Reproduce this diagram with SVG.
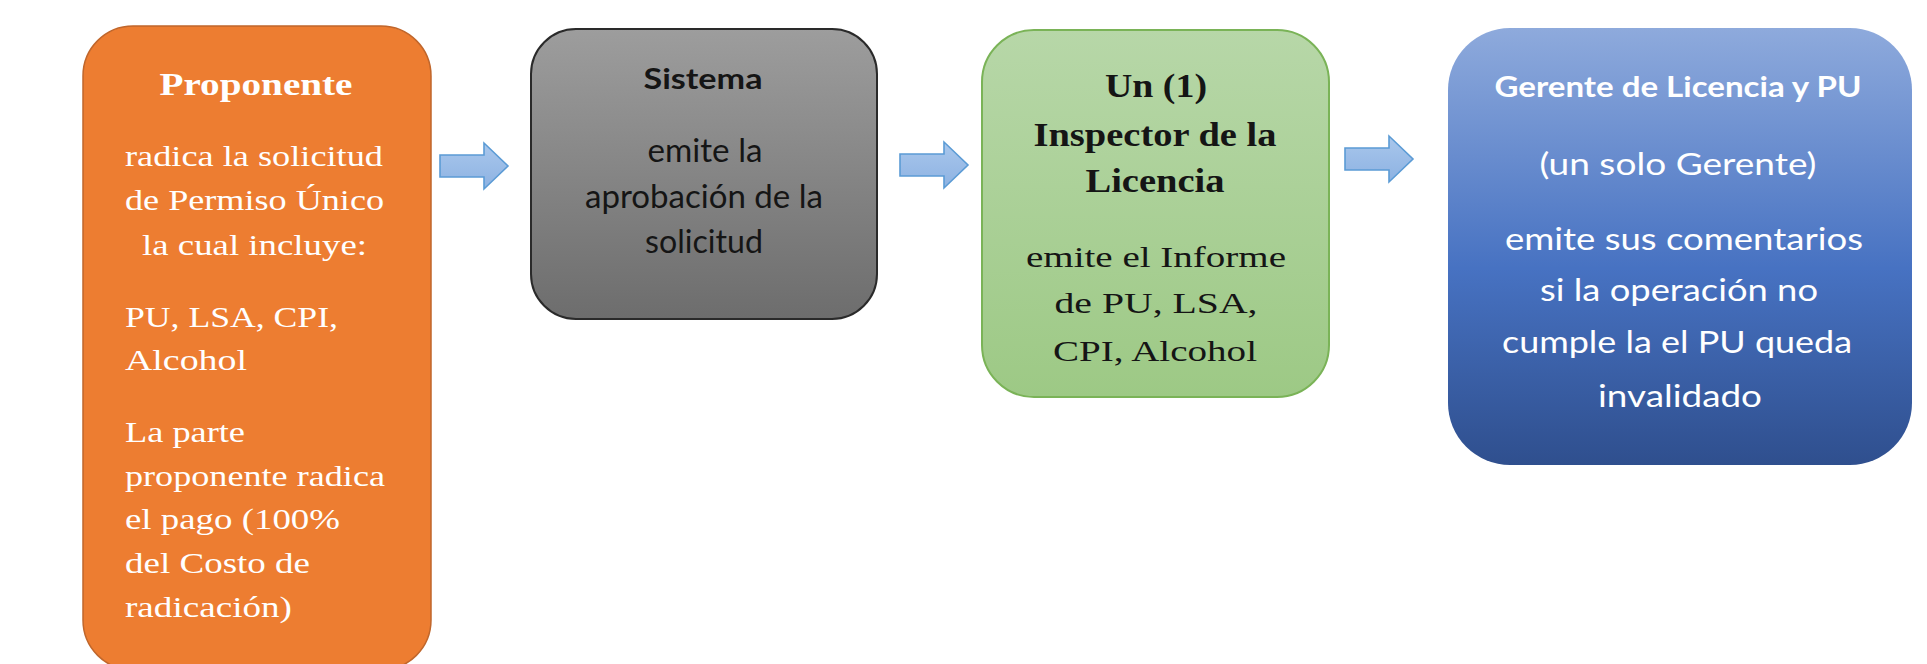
<svg xmlns="http://www.w3.org/2000/svg" xmlns:xlink="http://www.w3.org/1999/xlink" width="1927" height="664" viewBox="0 0 1927 664">
  <defs>
    <linearGradient id="gGray" x1="0" y1="0" x2="0" y2="1">
      <stop offset="0" stop-color="#9d9d9d"/>
      <stop offset="1" stop-color="#6d6d6d"/>
    </linearGradient>
    <linearGradient id="gGreen" x1="0" y1="0" x2="0" y2="1">
      <stop offset="0" stop-color="#b7d7a8"/>
      <stop offset="1" stop-color="#9dc985"/>
    </linearGradient>
    <linearGradient id="gBlue" x1="0" y1="0" x2="0" y2="1">
      <stop offset="0" stop-color="#8eaadc"/>
      <stop offset="0.55" stop-color="#4772c2"/>
      <stop offset="1" stop-color="#2f4f8e"/>
    </linearGradient>
    <linearGradient id="gArrow" x1="0" y1="0" x2="0" y2="1">
      <stop offset="0" stop-color="#a9c7ec"/>
      <stop offset="1" stop-color="#8db2e2"/>
    </linearGradient>
    <path id="arrow" d="M0 -11 H44 V-23 L68 0 L44 23 V11 H0 Z"/>
  </defs>
  <style>
    .serif { font-family: "Liberation Serif", "Times New Roman", serif; }
    .sans { font-family: Lato, "Open Sans", "Liberation Sans", sans-serif; }
    .b { font-weight: bold; }
    .w { fill: #ffffff; }
    .k { fill: #151515; }
    .mid { text-anchor: middle; }
    .arr { fill: url(#gArrow); stroke: #5b9bd5; stroke-width: 1.6; stroke-linejoin: miter; }
  </style>
  <rect width="1927" height="664" fill="#ffffff"/>

  <g id="node-proponente">
    <rect x="83" y="26" width="348" height="644" rx="50" ry="50" fill="#ed7d31" stroke="#c0662b" stroke-width="1.5"/>
    <g class="serif w" font-size="30">
      <text class="b mid" x="256" y="95" font-size="32" textLength="193" lengthAdjust="spacingAndGlyphs">Proponente</text>
      <text x="125" y="166" textLength="258" lengthAdjust="spacingAndGlyphs">radica la solicitud</text>
      <text x="125" y="210" textLength="259" lengthAdjust="spacingAndGlyphs">de Permiso Único</text>
      <text x="142" y="255" textLength="225" lengthAdjust="spacingAndGlyphs">la cual incluye:</text>
      <text x="125" y="327" textLength="213" lengthAdjust="spacingAndGlyphs">PU, LSA, CPI,</text>
      <text x="125" y="370" textLength="122" lengthAdjust="spacingAndGlyphs">Alcohol</text>
      <text x="125" y="442" textLength="120" lengthAdjust="spacingAndGlyphs">La parte</text>
      <text x="125" y="486" textLength="260" lengthAdjust="spacingAndGlyphs">proponente radica</text>
      <text x="125" y="529" textLength="215" lengthAdjust="spacingAndGlyphs">el pago (100%</text>
      <text x="125" y="573" textLength="185" lengthAdjust="spacingAndGlyphs">del Costo de</text>
      <text x="125" y="617" textLength="167" lengthAdjust="spacingAndGlyphs">radicación)</text>
    </g>
  </g>

  <g id="node-sistema">
    <rect x="531" y="29" width="346" height="290" rx="45" ry="45" fill="url(#gGray)" stroke="#2a2a2a" stroke-width="2"/>
    <g class="sans k mid">
      <text class="b" x="703" y="89" font-size="29" textLength="119" lengthAdjust="spacingAndGlyphs">Sistema</text>
      <text x="705" y="162" font-size="32" textLength="115" lengthAdjust="spacingAndGlyphs">emite la</text>
      <text x="704" y="208" font-size="32" textLength="238" lengthAdjust="spacingAndGlyphs">aprobación de la</text>
      <text x="704" y="253" font-size="32" textLength="118" lengthAdjust="spacingAndGlyphs">solicitud</text>
    </g>
  </g>

  <g id="node-inspector">
    <rect x="982" y="30" width="347" height="367" rx="52" ry="52" fill="url(#gGreen)" stroke="#7ab357" stroke-width="2"/>
    <g class="serif k mid">
      <text class="b" x="1156" y="97" font-size="33" textLength="102" lengthAdjust="spacingAndGlyphs">Un (1)</text>
      <text class="b" x="1155" y="146" font-size="33" textLength="243" lengthAdjust="spacingAndGlyphs">Inspector de la</text>
      <text class="b" x="1155" y="192" font-size="33" textLength="139" lengthAdjust="spacingAndGlyphs">Licencia</text>
      <text x="1156" y="267" font-size="30" textLength="260" lengthAdjust="spacingAndGlyphs">emite el Informe</text>
      <text x="1156" y="313" font-size="30" textLength="203" lengthAdjust="spacingAndGlyphs">de PU, LSA,</text>
      <text x="1155" y="361" font-size="30" textLength="204" lengthAdjust="spacingAndGlyphs">CPI, Alcohol</text>
    </g>
  </g>

  <g id="node-gerente">
    <rect x="1448" y="28" width="464" height="437" rx="62" ry="62" fill="url(#gBlue)"/>
    <g class="sans w mid">
      <text class="b" x="1678" y="97" font-size="28" textLength="367" lengthAdjust="spacingAndGlyphs">Gerente de Licencia y PU</text>
      <text x="1678" y="175" font-size="30" textLength="277" lengthAdjust="spacingAndGlyphs">(un solo Gerente)</text>
      <text x="1684" y="250" font-size="31" textLength="358" lengthAdjust="spacingAndGlyphs">emite sus comentarios</text>
      <text x="1679" y="301" font-size="31" textLength="278" lengthAdjust="spacingAndGlyphs">si la operación no</text>
      <text x="1677" y="353" font-size="31" textLength="350" lengthAdjust="spacingAndGlyphs">cumple la el PU queda</text>
      <text x="1680" y="407" font-size="31" textLength="164" lengthAdjust="spacingAndGlyphs">invalidado</text>
    </g>
  </g>

  <g id="connectors">
    <use xlink:href="#arrow" href="#arrow" class="arr" transform="translate(440,166)"/>
    <use xlink:href="#arrow" href="#arrow" class="arr" transform="translate(900,165)"/>
    <use xlink:href="#arrow" href="#arrow" class="arr" transform="translate(1345,159)"/>
  </g>
</svg>
